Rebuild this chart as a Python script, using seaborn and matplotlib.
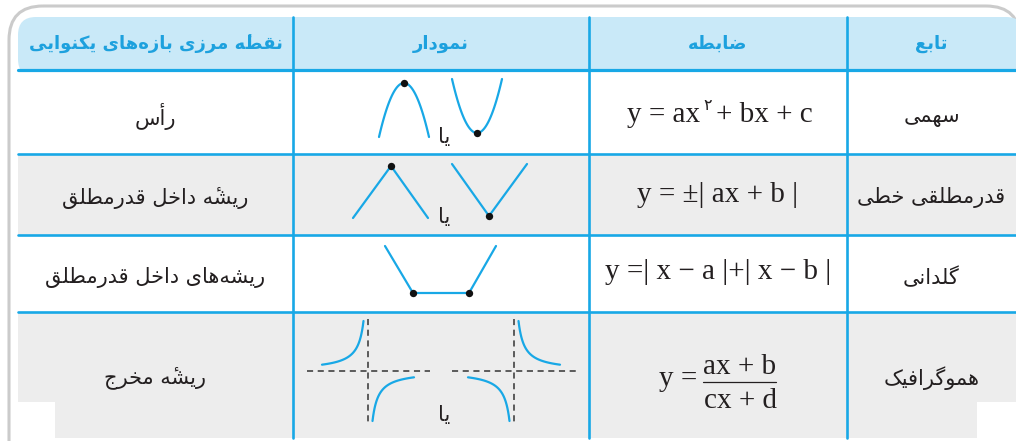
import numpy as np
import pandas as pd
import matplotlib.pyplot as plt
import seaborn as sns
from matplotlib.patches import FancyBboxPatch, Rectangle

# متن‌های جدول (از راست به چپ)
headers = ["تابع", "ضابطه", "نمودار", "نقطۀ مرزی بازه‌های یکنوایی"]
func_names = ["سهمی", "قدرمطلقی خطی", "گلدانی", "هموگرافیک"]
boundary_pts = ["رأس", "ریشۀ داخل قدرمطلق", "ریشه‌های داخل قدرمطلق", "ریشۀ مخرج"]
formula_1a = "y = ax"
formula_1b = "۲"
formula_1c = "+ bx + c"
formula_2 = "y = ±| ax + b |"
formula_3 = "y =| x − a |+| x − b |"
frac_num = "ax + b"
frac_den = "cx + d"
or_word = "یا"

# شبکه جدول به پیکسل
col_edges = [18, 293, 589, 847, 1016]
row_edges = [17, 70, 154, 235, 312, 438]

BLUE = "#18a8e6"
HEAD_BG = "#c9e9f8"
GRAY = "#ededed"
INK = "#231f20"

# شکل‌دهی حروف فارسی (matplotlib خودش حروف را نمی‌چسباند)
DUAL = {
    "ب": (0xFE8F, 0xFE90, 0xFE91, 0xFE92), "ت": (0xFE95, 0xFE96, 0xFE97, 0xFE98),
    "ج": (0xFE9D, 0xFE9E, 0xFE9F, 0xFEA0), "خ": (0xFEA5, 0xFEA6, 0xFEA7, 0xFEA8),
    "س": (0xFEB1, 0xFEB2, 0xFEB3, 0xFEB4), "ش": (0xFEB5, 0xFEB6, 0xFEB7, 0xFEB8),
    "ض": (0xFEBD, 0xFEBE, 0xFEBF, 0xFEC0), "ط": (0xFEC1, 0xFEC2, 0xFEC3, 0xFEC4),
    "ع": (0xFEC9, 0xFECA, 0xFECB, 0xFECC), "ف": (0xFED1, 0xFED2, 0xFED3, 0xFED4),
    "ق": (0xFED5, 0xFED6, 0xFED7, 0xFED8), "ل": (0xFEDD, 0xFEDE, 0xFEDF, 0xFEE0),
    "م": (0xFEE1, 0xFEE2, 0xFEE3, 0xFEE4), "ن": (0xFEE5, 0xFEE6, 0xFEE7, 0xFEE8),
    "ه": (0xFEE9, 0xFEEA, 0xFEEB, 0xFEEC), "ک": (0xFB8E, 0xFB8F, 0xFB90, 0xFB91),
    "گ": (0xFB92, 0xFB93, 0xFB94, 0xFB95), "ی": (0xFBFC, 0xFBFD, 0xFBFE, 0xFBFF),
}
RIGHT = {
    "ا": (0xFE8D, 0xFE8E), "أ": (0xFE83, 0xFE84), "د": (0xFEA9, 0xFEAA),
    "ر": (0xFEAD, 0xFEAE), "ز": (0xFEAF, 0xFEB0), "و": (0xFEED, 0xFEEE),
    "ۀ": (0xFEE9, 0xFEEA),  # ه + همزه بالا
}


def fa(s):
    out = []
    for i, ch in enumerate(s):
        if ch == "\u200c":
            continue
        if ch not in DUAL and ch not in RIGHT:
            out.append(ch)
            continue
        prev = s[i - 1] if i > 0 else ""
        nxt = s[i + 1] if i + 1 < len(s) else ""
        jp = prev in DUAL
        jn = ch in DUAL and (nxt in DUAL or nxt in RIGHT)
        forms = DUAL.get(ch) or RIGHT[ch]
        if jp and jn:
            f = forms[3]
        elif jn:
            f = forms[2]
        elif jp:
            f = forms[1]
        else:
            f = forms[0]
        if ch == "ۀ":
            out.append("\u0654")
        out.append(chr(f))
    return "".join(reversed(out))


sns.set_theme(style="white")
plt.rcParams["font.family"] = ["DejaVu Sans"]

fig = plt.figure(figsize=(10.16, 4.41), dpi=100)
ax = fig.add_axes([0, 0, 1, 1])
ax.set_xlim(0, 1016)
ax.set_ylim(441, 0)
ax.axis("off")

# قاب خاکستری بیرونی
ax.add_patch(FancyBboxPatch((9, 6), 1011, 500, boxstyle="round,pad=0,rounding_size=34",
                            fc="none", ec="#cbcbcb", lw=2.2, zorder=1))
# سرستون آبی
ax.add_patch(FancyBboxPatch((18, 17), 1006, 60, boxstyle="round,pad=0,rounding_size=18",
                            fc=HEAD_BG, ec="none", zorder=2))
# ردیف‌ها
for r in range(4):
    top, bot = row_edges[r + 1], row_edges[r + 2]
    fc = GRAY if r % 2 == 1 else "white"
    ax.add_patch(Rectangle((col_edges[0], top), col_edges[-1] - col_edges[0], bot - top,
                           fc=fc, ec="none", zorder=2))
# گوشه‌های سفید پایین
ax.add_patch(Rectangle((18, 402), 37, 45, fc="white", ec="none", zorder=3))
ax.add_patch(Rectangle((977, 402), 45, 45, fc="white", ec="none", zorder=3))

# خطوط آبی
for i, y in enumerate(row_edges[1:-1]):
    ax.plot([col_edges[0], col_edges[-1]], [y, y], color=BLUE, lw=2.3 if i == 0 else 1.9, zorder=4)
for x in col_edges[1:-1]:
    ax.plot([x, x], [row_edges[0], row_edges[-1]], color=BLUE, lw=1.9, zorder=4)

col_cx = [(col_edges[i] + col_edges[i + 1]) / 2 for i in range(4)][::-1]  # راست به چپ

# سرستون‌ها
for txt, cx in zip(headers, col_cx):
    ax.text(cx, 44, fa(txt), ha="center", va="center", fontsize=13, fontweight="bold",
            color="#1da1de", zorder=5)

body_y = [117, 198, 277, 378]
for name, y in zip(func_names, body_y):
    ax.text(col_cx[0], y, fa(name), ha="center", va="center", fontsize=15, color=INK, zorder=5)
for name, y in zip(boundary_pts, body_y):
    ax.text(col_cx[3], y, fa(name), ha="center", va="center", fontsize=15, color=INK, zorder=5)

# ضابطه‌ها
serif = dict(family="Liberation Serif", fontsize=21, color=INK, zorder=5)
t1 = ax.text(627, 122, formula_1a, ha="left", va="baseline", **serif)
t2 = ax.annotate(formula_1b, xy=(1, 110), xycoords=(t1, "data"), xytext=(2, 0),
                 textcoords="offset points", ha="left", va="baseline", fontsize=11.5,
                 color=INK, zorder=5)
ax.annotate(formula_1c, xy=(1, 122), xycoords=(t2, "data"), xytext=(3, 0),
            textcoords="offset points", ha="left", va="baseline", **serif)
ax.text(col_cx[1], 202, formula_2, ha="center", va="baseline", **serif)
ax.text(col_cx[1], 279, formula_3, ha="center", va="baseline", **serif)
ax.text(697, 386, "y =", ha="right", va="baseline", **serif)
ax.text(740, 374, frac_num, ha="center", va="baseline", **serif)
ax.text(740, 408, frac_den, ha="center", va="baseline", **serif)
ax.plot([703, 776], [382, 382], color=INK, lw=0.9, zorder=5)

# نمودارها
line_kw = dict(color=BLUE, lw=1.6, sort=False, estimator=None, ax=ax, legend=False, zorder=5)
dot_kw = dict(color="#111111", s=28, ax=ax, legend=False, zorder=6, linewidth=0)

u = np.linspace(-25, 25, 60)
para_down = pd.DataFrame({"x": 404 + u, "y": 83 + 0.0864 * u ** 2})
para_up = pd.DataFrame({"x": 477 + u, "y": 133 - 0.0864 * u ** 2})
sns.lineplot(data=para_down, x="x", y="y", **line_kw)
sns.lineplot(data=para_up, x="x", y="y", **line_kw)
sns.scatterplot(x=[404, 477], y=[83, 133], **dot_kw)

abs_down = pd.DataFrame({"x": [353, 391, 428], "y": [218, 166, 218]})
abs_up = pd.DataFrame({"x": [452, 489, 527], "y": [164, 216, 164]})
sns.lineplot(data=abs_down, x="x", y="y", **line_kw)
sns.lineplot(data=abs_up, x="x", y="y", **line_kw)
sns.scatterplot(x=[391, 489], y=[166, 216], **dot_kw)

vase = pd.DataFrame({"x": [385, 413, 469, 496], "y": [246, 293, 293, 246]})
sns.lineplot(data=vase, x="x", y="y", **line_kw)
sns.scatterplot(x=[413, 469], y=[293, 293], **dot_kw)

# هموگرافیک
dash_kw = dict(color="#333333", lw=1.1, ls=(0, (4, 3)), zorder=5)
for hx, (xl, xr), sgn in [(368, (307, 430), -1), (514, (452, 576), 1)]:
    ax.plot([hx, hx], [319, 422], **dash_kw)
    ax.plot([xl, xr], [371, 371], **dash_kw)
    d = np.linspace(4.5, 46, 60)
    w = 300 / (d + 1.5)
    for side in (-1, 1):
        br = pd.DataFrame({"x": hx + side * d, "y": 371 - sgn * side * w})
        sns.lineplot(data=br, x="x", y="y", **line_kw)

for y in [137, 217, 415]:
    ax.text(444, y, fa(or_word), ha="center", va="center", fontsize=15, color=INK, zorder=6)

fig.savefig("out.png", dpi=100)
